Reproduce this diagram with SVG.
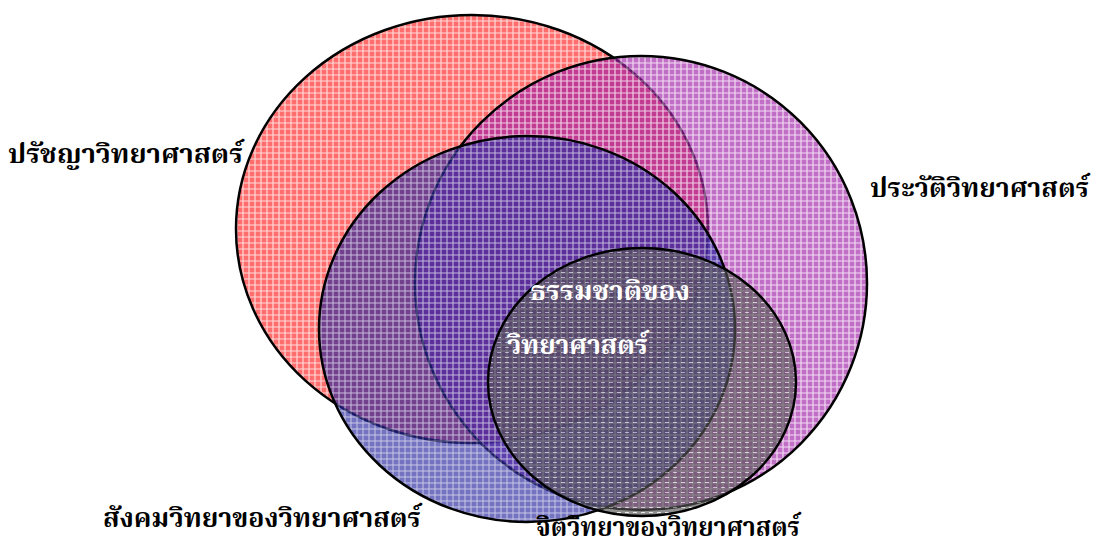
<svg xmlns="http://www.w3.org/2000/svg" width="1097" height="552" viewBox="0 0 1097 552">
<style>
.e{stroke:#000;stroke-width:2.5;fill-opacity:0.65}
.lbl{font-family:"Noto Serif Thai","Noto Sans Thai","Liberation Serif",serif;font-weight:bold;font-size:27px;fill:#000}
.in{fill:#fff}
</style>
<defs>
<pattern id="pr" width="6" height="6" patternUnits="userSpaceOnUse">
<rect width="6" height="6" fill="#ff1e1e"/>
<path d="M0 3H6M3 0V6" stroke="#fff" stroke-width="1.2" opacity="0.75"/>
</pattern>
<pattern id="pp" width="6" height="6" patternUnits="userSpaceOnUse">
<rect width="6" height="6" fill="#a020a8"/>
<path d="M0 3H6M3 0V6" stroke="#fff" stroke-width="1.2" opacity="0.75"/>
</pattern>
<pattern id="pb" width="6" height="6" patternUnits="userSpaceOnUse">
<rect width="6" height="6" fill="#2828a0"/>
<path d="M0 3H6M3 0V6" stroke="#fff" stroke-width="1" opacity="0.6"/>
</pattern>
<pattern id="pg" width="8" height="5" patternUnits="userSpaceOnUse">
<rect width="8" height="5" fill="#555"/>
<path d="M1 2.5H5" stroke="#fff" stroke-width="1" opacity="0.8"/>
</pattern>
</defs>
<rect width="1097" height="552" fill="#fff"/>
<g id="philosophy"><ellipse class="e" cx="472" cy="229" rx="236" ry="214" fill="url(#pr)"/></g>
<g id="history"><ellipse class="e" cx="641" cy="283" rx="226" ry="227" fill="url(#pp)"/></g>
<g id="sociology"><ellipse class="e" cx="527" cy="329" rx="208" ry="193" fill="url(#pb)" fill-opacity="0.55"/></g>
<g id="psychology"><ellipse class="e" cx="642" cy="382" rx="154" ry="134" fill="url(#pg)" fill-opacity="0.5"/></g>
<g id="labels">
<text class="lbl" x="8" y="163" textLength="235" lengthAdjust="spacingAndGlyphs">ปรัชญาวิทยาศาสตร์</text>
<text class="lbl" x="870" y="197" textLength="219" lengthAdjust="spacingAndGlyphs">ประวัติวิทยาศาสตร์</text>
<text class="lbl" x="103" y="527" textLength="318" lengthAdjust="spacingAndGlyphs">สังคมวิทยาของวิทยาศาสตร์</text>
<text class="lbl" x="536" y="536" font-size="24" textLength="264" lengthAdjust="spacingAndGlyphs">จิตวิทยาของวิทยาศาสตร์</text>
<text class="lbl in" x="530" y="300" textLength="160" lengthAdjust="spacingAndGlyphs">ธรรมชาติของ</text>
<text class="lbl in" x="507" y="354" textLength="141" lengthAdjust="spacingAndGlyphs">วิทยาศาสตร์</text>
</g>
</svg>
